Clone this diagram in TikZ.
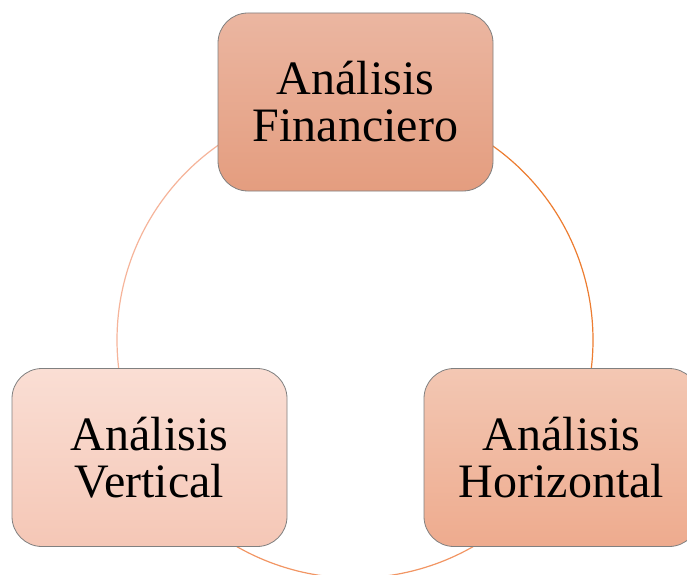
\documentclass[tikz,border=0pt]{standalone}
\usepackage{fontspec}
\setmainfont{Liberation Serif}
\usetikzlibrary{calc}
\begin{document}
\begin{tikzpicture}[x=1pt,y=1pt,
  box/.style={draw=black!50, line width=0.8pt, rounded corners=30pt,
    minimum width=275pt, minimum height=178pt, inner sep=0pt,
    align=center, font=\fontsize{48}{47}\selectfont},
  arcline/.style={line width=1.2pt}]
\clip (0,0) rectangle (687,574);
\fill[white] (0,0) rectangle (687,574);
% ring behind the three boxes
\coordinate (c) at (355,234);
\draw[arcline, color={rgb,255:red,246;green,180;blue,154}]
  ($(c)+(100:238)$) arc[start angle=100, end angle=200, radius=238];
\draw[arcline, color={rgb,255:red,237;green,125;blue,49}]
  ($(c)+(80:238)$) arc[start angle=80, end angle=-20, radius=238];
\draw[arcline, color={rgb,255:red,242;green,150;blue,100}]
  ($(c)+(220:238)$) arc[start angle=220, end angle=320, radius=238];
% boxes
\node[box, top color={rgb,255:red,235;green,182;blue,161},
  bottom color={rgb,255:red,228;green,157;blue,127}]
  (fin) at (355.5,472) {Análisis\\Financiero};
\node[box, top color={rgb,255:red,250;green,222;blue,212},
  bottom color={rgb,255:red,245;green,199;blue,182}]
  (ver) at (149.5,116.5) {Análisis\\Vertical};
\node[box, top color={rgb,255:red,243;green,199;blue,179},
  bottom color={rgb,255:red,238;green,171;blue,142}]
  (hor) at (561.5,116.5) {Análisis\\Horizontal};
\end{tikzpicture}
\end{document}
